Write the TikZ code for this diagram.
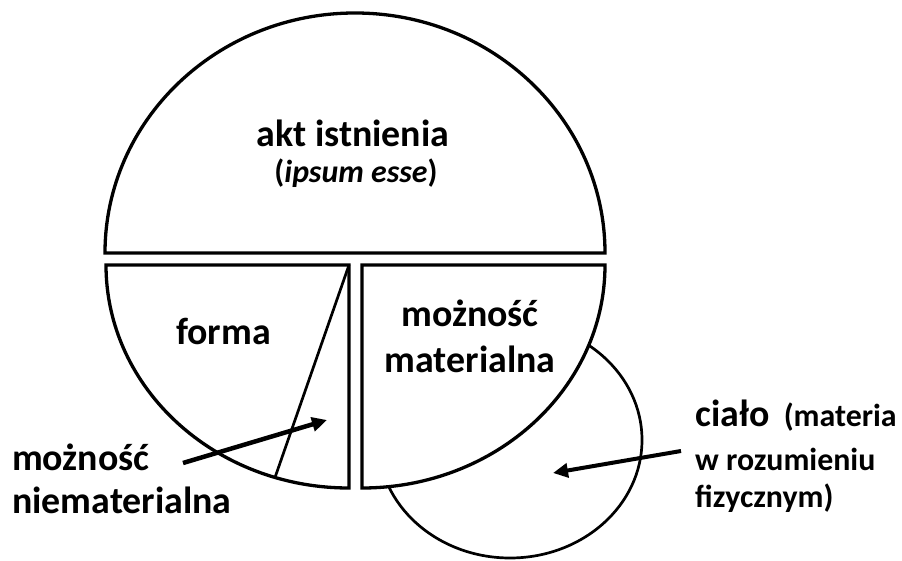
\documentclass[tikz,border=0pt]{standalone}
\usepackage{fontspec}
\setmainfont{Carlito}
\usetikzlibrary{arrows.meta}

\begin{document}
\begin{tikzpicture}[x=1bp, y=-1bp,
		part/.style={draw, line width=3.3bp, fill=white},
		thin part/.style={draw, line width=2.7bp},
		lbl/.style={font=\bfseries\fontsize{38}{40}\selectfont, inner sep=0pt},
		sublbl/.style={font=\bfseries\fontsize{32}{36}\selectfont, inner sep=0pt},
		pointer/.style={-{Triangle[length=15bp, width=14bp]}, line width=4.5bp}]
		\useasboundingbox (0,0) rectangle (902,561);
		\coordinate (A) at (355,253);
		\coordinate (F) at (349,265);
		\coordinate (M) at (362,265);
		% top half: act of existence
		\draw[part] (105,253) arc[start angle=180, end angle=360, x radius=250, y radius=240] -- cycle;
		% lower left quarter
		\draw[part] (106,265) -- (F) -- (349,488) arc[start angle=90, end angle=180, x radius=243, y radius=223] -- cycle;
		\coordinate (foot) at (275,477.5);
		\draw[thin part] (F) -- (foot);
		% body, partly behind the right quarter
		\draw[thin part] (510,440) ellipse[x radius=132, y radius=118];
		\draw[part] (M) -- (605,265) arc[start angle=0, end angle=90, x radius=243, y radius=223] -- cycle;
		% labels
		\node[lbl, anchor=base] (akt) at (353,147) {akt istnienia};
		\node[sublbl, anchor=base] (ipsum) at (356,183) {(\textit{ipsum esse})};
		\node[lbl, anchor=base] (forma) at (223.5,345) {forma};
		\node[lbl, anchor=base] (mm1) at (470,327) {możność};
		\node[lbl, anchor=base] (mm2) at (470,372) {materialna};
		\node[lbl, anchor=base west] (mn1) at (12,470) {możność};
		\node[lbl, anchor=base west] (mn2) at (12,513) {niematerialna};
		\node[anchor=base west, inner sep=0pt] (cialo) at (695,426) {\bfseries\fontsize{38}{40}\selectfont ciało\fontsize{32}{36}\selectfont\ \ (materia};
		\node[sublbl, anchor=base west] (roz) at (695,470) {w rozumieniu};
		\node[sublbl, anchor=base west] (fiz) at (695,507) {fizycznym)};
		% pointers
		\coordinate (p1) at (183,463);
		\coordinate (q1) at (327,420);
		\draw[pointer] (p1) -- (q1);
		\coordinate (p2) at (681,451);
		\coordinate (q2) at (553,473);
		\draw[pointer, line width=4bp] (p2) -- (q2);
	\end{tikzpicture}
\end{document}
